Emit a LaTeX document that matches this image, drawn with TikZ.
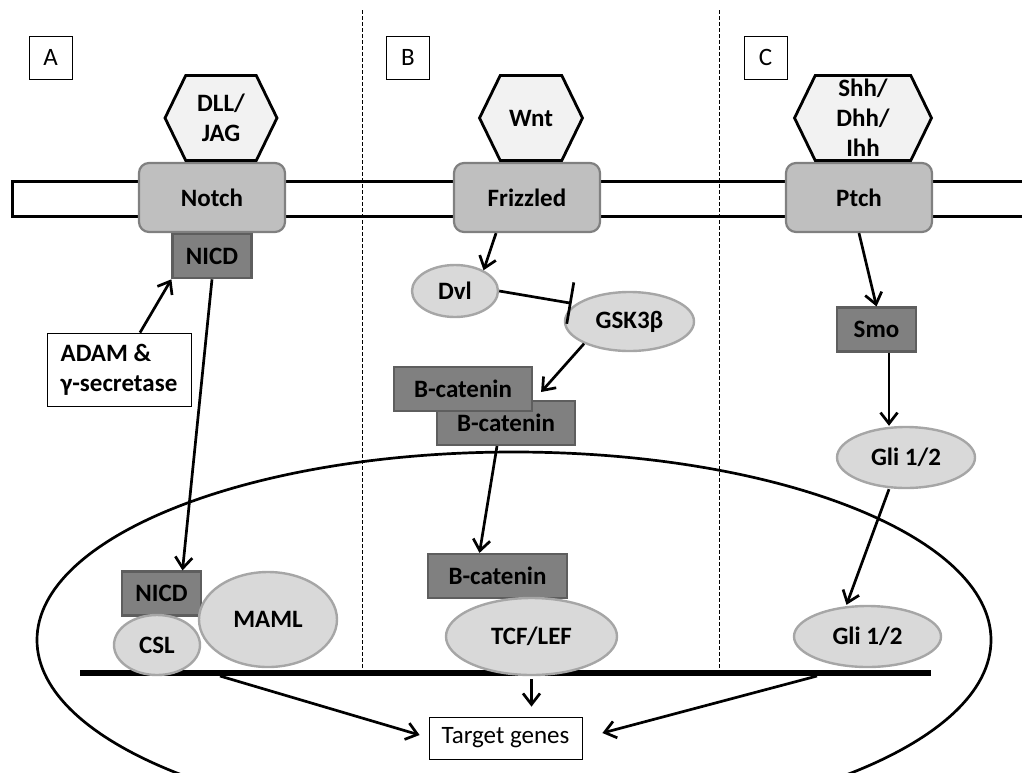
\documentclass[tikz,border=0pt]{standalone}
\usepackage{fontspec}
\setmainfont{Carlito}
\usetikzlibrary{positioning,shapes.geometric,shapes.symbols,arrows.meta}

\definecolor{ligfill}{HTML}{F2F2F2}
\definecolor{recfill}{HTML}{BFBFBF}
\definecolor{recline}{HTML}{808080}
\definecolor{boxfill}{HTML}{808080}
\definecolor{boxline}{HTML}{5E5E5E}
\definecolor{ellfill}{HTML}{D9D9D9}
\definecolor{ellline}{HTML}{A6A6A6}

\newcommand{\lblfont}{\fontsize{25}{30}\selectfont}

\tikzset{
  ligand/.style={shape=signal, signal to=west and east, signal pointer angle=128,
    draw, line width=2.8pt, fill=ligfill, minimum height=85, inner sep=0pt,
    align=center, font=\lblfont\bfseries},
  receptor/.style={rectangle, rounded corners=10pt, draw=recline, fill=recfill,
    line width=2.2pt, minimum width=146, minimum height=69, font=\lblfont\bfseries},
  protbox/.style={rectangle, draw=boxline, fill=boxfill, line width=2.2pt,
    minimum height=44, font=\lblfont\bfseries},
  protell/.style={ellipse, draw=ellline, fill=ellfill, line width=2.4pt,
    inner sep=0pt, font=\lblfont\bfseries},
  tag/.style={rectangle, draw, line width=0.8pt, minimum size=43, font=\lblfont},
  note/.style={rectangle, draw, fill=white, line width=0.8pt, font=\lblfont},
  act/.style={-{Straight Barb[length=11pt,width=17pt]}, line width=2.7pt},
  inhib/.style={-{Bar[width=42pt]}, line width=2.7pt, shorten >=4pt},
  divider/.style={line width=0.9pt, dash pattern=on 4pt off 2pt},
}

\begin{document}
\begin{tikzpicture}[x=1pt,y=-1pt]
  \useasboundingbox (0,0) rectangle (1022,772);
  \clip (0,0) rectangle (1022,772);

  % nucleus, membrane, dividers, DNA
  \draw [line width=2.7pt] (514,640) ellipse [x radius=477, y radius=188];
  \draw [line width=3pt] (1030,181) -- (12,181) -- (12,216) -- (1030,216);
  \draw [divider] (362,10) -- (362,672);
  \draw [divider] (719,10) -- (719,672);
  \coordinate (dnaL) at (80,673);
  \coordinate (dnaR) at (931,673);
  \draw [line width=6.5pt] (dnaL) -- (dnaR);
  \coordinate (outA) at (220,676);
  \coordinate (outC) at (817,676);

  % A: Notch
  \node [tag] (tagA) at (50.5,57.5) {A};
  \node [receptor] (notch) at (212,197.5) {Notch};
  \node [ligand, minimum width=112, above=0pt of notch, xshift=9pt] (dll) {DLL/\\JAG};
  \node [protbox, minimum width=79, below=0pt of notch] (nicdA) {NICD};
  \node [note, minimum width=144, minimum height=73, align=left, font=\lblfont\bfseries] (adam) at (119,369.5) {ADAM \&\\γ-secretase};
  \node [protbox, minimum width=79] (nicdB) at (161.5,593.5) {NICD};
  \node [protell, minimum width=86, minimum height=60] (csl) at (157,645) {CSL};
  \node [protell, minimum width=138, minimum height=95] (maml) at (268,619.5) {MAML};

  % B: Wnt
  \node [tag] (tagB) at (408,57.5) {B};
  \node [receptor] (friz) at (527,197.5) {Frizzled};
  \node [ligand, minimum width=103, above=0pt of friz, xshift=4pt] (wnt) {Wnt};
  \node [protell, minimum width=86, minimum height=52] (dvl) at (455,291) {Dvl};
  \node [protell, minimum width=129, minimum height=59] (gsk) at (629.5,321.5) {GSK3β};
  \node [protbox, minimum width=138] (bcatB) at (506,423) {B-catenin};
  \node [protbox, minimum width=138] (bcatA) at (463,389) {B-catenin};
  \node [protbox, minimum width=139] (bcatC) at (497.5,576) {B-catenin};
  \node [protell, minimum width=171, minimum height=77] (tcf) at (531.5,636.5) {TCF/LEF};
  \node [note, minimum width=153, minimum height=42] (target) at (505.5,738) {Target genes};

  % C: Hedgehog
  \node [tag] (tagC) at (765.5,57.5) {C};
  \node [receptor] (ptch) at (859,197.5) {Ptch};
  \node [ligand, minimum width=137, above=0pt of ptch, xshift=4pt] (shh) {Shh/\\Dhh/\\Ihh};
  \node [protbox, minimum width=79] (smo) at (876.5,329.5) {Smo};
  \node [protell, minimum width=138, minimum height=61] (gliA) at (906,457.5) {Gli 1/2};
  \node [protell, minimum width=147, minimum height=61] (gliB) at (867.5,636.5) {Gli 1/2};

  % connectors
  \draw [act] ([xshift=21pt]adam.north) -- (nicdA.south west);
  \draw [act] (nicdA.south) -- ([xshift=21pt]nicdB.north);
  \draw [act] (friz.229) -- (dvl.36);
  \draw [inhib] (dvl.east) -- (gsk.162);
  \draw [act] (gsk.206) -- ([xshift=8pt,yshift=-3pt]bcatA.east);
  \draw [act] ([xshift=-9pt]bcatB.south) -- ([xshift=-18pt]bcatC.north);
  \draw [act] ([yshift=-3pt]tcf.south) -- ([xshift=26pt,yshift=10pt]target.north);
  \draw [act] (outA) -- ([xshift=-9pt,yshift=3pt]target.west);
  \draw [act] (outC) -- ([xshift=20pt,yshift=5pt]target.east);
  \draw [act] (ptch.south) -- (smo.north);
  \draw [act] ([xshift=12.5pt]smo.south) -- ([xshift=-17pt]gliA.north);
  \draw [act] ([xshift=-17pt]gliA.south) -- ([xshift=-21pt]gliB.north);
\end{tikzpicture}
\end{document}
